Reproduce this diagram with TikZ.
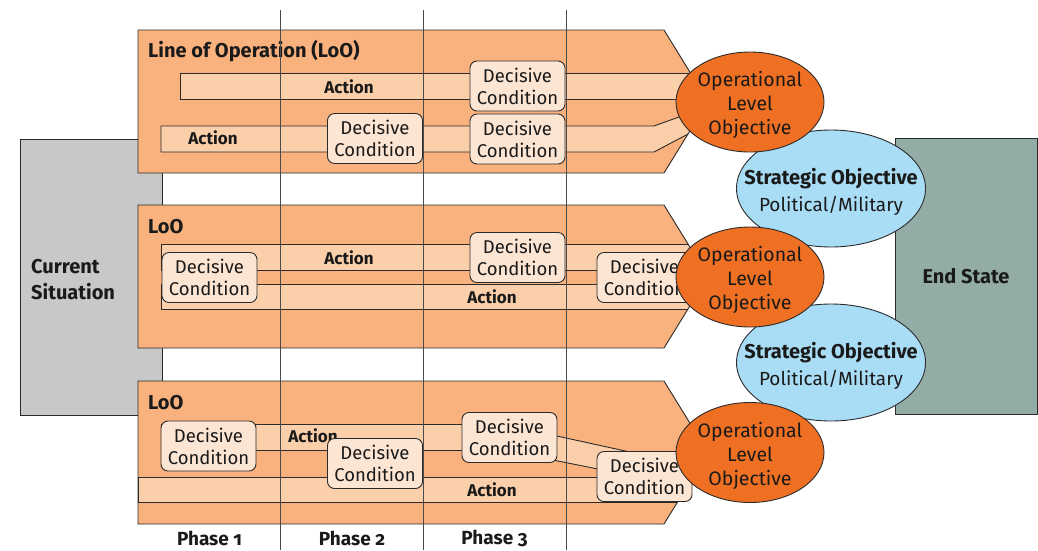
\documentclass[tikz,border=0pt]{standalone}
\usepackage{fontspec}
\setmainfont{Fira Sans}[Numbers=OldStyle]
\usetikzlibrary{shapes.geometric}

\definecolor{bandfill}{HTML}{F9B27E}
\definecolor{barfill}{HTML}{FBCFAA}
\definecolor{dcfill}{HTML}{FDE5D4}
\definecolor{opfill}{HTML}{EF7023}
\definecolor{stratfill}{HTML}{A9DDF6}
\definecolor{curfill}{HTML}{C8C8C8}
\definecolor{endfill}{HTML}{93ADA6}
\definecolor{edge}{HTML}{2B2B2B}
\definecolor{ink}{HTML}{1A1A1A}

% arrow-shaped band for one line of operation: top y, bottom y
\newcommand\lopband[2]{(138,#1) -- (664,#1) -- (708,{(#1+#2)/2}) -- (664,#2) -- (138,#2) -- cycle}

\tikzset{
  outline/.style={draw=edge, line width=0.9pt},
  bar/.style={outline, fill=barfill},
  dcbox/.style={outline, fill=dcfill, rounded corners=7pt, minimum width=95pt,
    minimum height=50pt, inner sep=0pt, align=center, text=ink,
    font=\fontsize{18.5}{22}\selectfont},
  actlabel/.style={text=ink, inner sep=0pt, font=\bfseries\fontsize{17}{20}\selectfont},
  loolabel/.style={text=ink, inner sep=0pt, anchor=west, font=\bfseries\fontsize{20}{23}\selectfont},
  opobj/.style={ellipse, outline, fill=opfill, minimum width=148pt, minimum height=100pt,
    inner sep=0pt},
  optext/.style={align=center, text=ink, inner sep=0pt, font=\fontsize{19.5}{24}\selectfont},
  stratobj/.style={ellipse, outline, fill=stratfill, minimum width=189pt, minimum height=117pt,
    inner sep=0pt},
  strattext/.style={align=center, text=ink, inner sep=0pt, font=\fontsize{19}{27}\selectfont},
  sidebox/.style={outline, minimum width=142pt, minimum height=276pt, inner sep=0pt},
  phaseline/.style={draw=edge!85, line width=0.9pt},
  phaselabel/.style={text=ink, inner sep=0pt, font=\bfseries\fontsize{19}{22}\selectfont},
}

\begin{document}
\begin{tikzpicture}[x=1pt, y=-1pt]
\useasboundingbox (0,0) rectangle (1038,550);

% start and end boxes
\node[sidebox, fill=curfill] (cur) at (91,277) {};
\node[text=ink, align=left, anchor=west, inner sep=0pt,
  font=\bfseries\fontsize{20}{26}\selectfont] (curtext) at (31,280) {Current\\Situation};
\node[sidebox, fill=endfill, text=ink, font=\bfseries\fontsize{20}{23}\selectfont]
  (endstate) at (966,276.5) {End State};

% band 1
\fill[bandfill] \lopband{30}{173};
\begin{scope}
  \clip \lopband{30}{173};
  \draw[bar] (180,73) rectangle (730,99);
  \draw[bar] (161,126) -- (654,126) -- (730,98.6) -- (730,111.9) -- (654,152) -- (161,152) -- cycle;
\end{scope}
\draw[outline] \lopband{30}{173};

% band 2
\fill[bandfill] \lopband{205}{348};
\begin{scope}
  \clip \lopband{205}{348};
  \draw[bar] (161,244) rectangle (730,270);
  \draw[bar] (161,284) rectangle (730,309);
\end{scope}
\draw[outline] \lopband{205}{348};

% band 3
\fill[bandfill] \lopband{381}{524};
\begin{scope}
  \clip \lopband{381}{524};
  \draw[bar] (161,424) rectangle (480,450);
  \draw[bar] (545,433.4) -- (630,452) -- (630,475.4) -- (545,458.4) -- cycle;
  \draw[bar] (138,477) rectangle (730,502);
\end{scope}
\draw[outline] \lopband{381}{524};

% band titles and action labels
\node[loolabel] (loo1) at (148,51) {Line of Operation (LoO)};
\node[loolabel] (loo2) at (148,227) {LoO};
\node[loolabel] (loo3) at (148,403) {LoO};

\node[actlabel] (a11) at (349,87) {Action};
\node[actlabel] (a12) at (213,138) {Action};
\node[actlabel] (a21) at (349,258) {Action};
\node[actlabel] (a22) at (492,297) {Action};
\node[actlabel] (a31) at (313,436) {Action};
\node[actlabel] (a32) at (492,490) {Action};

% phase dividers
\coordinate (l1t) at (280.5,10);  \coordinate (l1b) at (280.5,550);
\coordinate (l2t) at (423.5,10);  \coordinate (l2b) at (423.5,550);
\coordinate (l3t) at (566,10);    \coordinate (l3b) at (566,550);
\draw[phaseline] (l1t) -- (l1b);
\draw[phaseline] (l2t) -- (l2b);
\draw[phaseline] (l3t) -- (l3b);

\node[phaselabel] (ph1) at (209.5,538.5) {Phase 1};
\node[phaselabel] (ph2) at (352,538.5) {Phase 2};
\node[phaselabel] (ph3) at (494.5,538.5) {Phase 3};

% decisive conditions
\node[dcbox] (dc11) at (517.5,86)    {Decisive\\Condition};
\node[dcbox] (dc12) at (375,138.5)   {Decisive\\Condition};
\node[dcbox] (dc13) at (517.5,139)   {Decisive\\Condition};
\node[dcbox] (dc21) at (209.5,277.5) {Decisive\\Condition};
\node[dcbox] (dc22) at (517.5,257.5) {Decisive\\Condition};
\node[dcbox] (dc23) at (644.5,277.5) {Decisive\\Condition};
\node[dcbox] (dc31) at (208.5,446)   {Decisive\\Condition};
\node[dcbox] (dc32) at (375,463.5)   {Decisive\\Condition};
\node[dcbox] (dc33) at (509.5,437.5) {Decisive\\Condition};
\node[dcbox] (dc34) at (644.5,476.5) {Decisive\\Condition};

% objectives
\node[stratobj] (so1) at (831,188.5) {};
\node[strattext] (so1t) at (831,192) {{\bfseries\fontsize{20}{27}\selectfont Strategic Objective}\\Political/Military};
\node[stratobj] (so2) at (831,362.5) {};
\node[strattext] (so2t) at (831,366) {{\bfseries\fontsize{20}{27}\selectfont Strategic Objective}\\Political/Military};

\node[opobj] (op1) at (750,102) {};
\node[optext] (op1t) at (750,105) {Operational\\Level\\Objective};
\node[opobj] (op2) at (750,277) {};
\node[optext] (op2t) at (750,280) {Operational\\Level\\Objective};
\node[opobj] (op3) at (750,452.5) {};
\node[optext] (op3t) at (750,455.5) {Operational\\Level\\Objective};
\end{tikzpicture}
\end{document}
